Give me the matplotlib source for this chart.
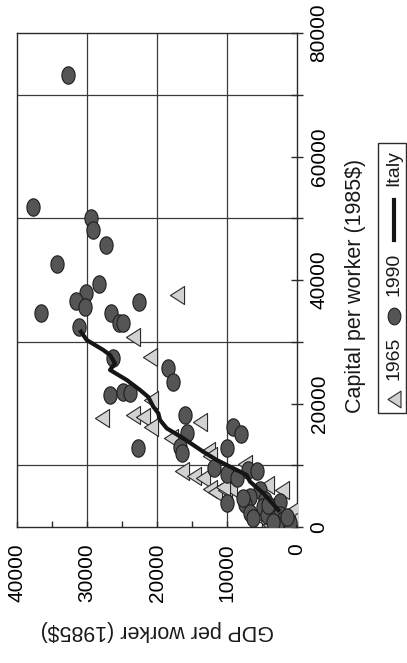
import numpy as np
import matplotlib
matplotlib.use("Agg")
import matplotlib.pyplot as plt
from matplotlib.path import Path
from matplotlib.patches import Rectangle
from matplotlib.lines import Line2D
from matplotlib.ticker import MultipleLocator

plt.rcParams['font.family'] = ['Liberation Sans', 'DejaVu Sans']

# ---- data: GDP per worker (1985$), capital per worker (1985$) ----
gdp_1965 = [17140, 23500, 21070, 20860, 27860, 23500, 21930, 20790, 13860, 18000,
            12710, 12430, 16430, 14710, 13430, 12430, 11710, 10290, 9570, 7500,
            10570, 4330, 2140, 4810, 4330, 3860, 530, 290, 1290, 2430]
cap_1965 = [37570, 30690, 27450, 20570, 17650, 18140, 17810, 16190, 17080, 14410,
            12310, 11500, 8990, 8260, 7940, 6150, 5670, 5990, 6320, 10200,
            6480, 6800, 5990, 1670, 860, 320, 2750, 1300, 320, 650]

gdp_1990 = [32710, 37760, 29430, 29140, 27290, 34240, 28330, 30190, 31610, 30290,
            36610, 26570, 22570, 25390, 24810, 31100, 26240, 18390, 17670, 26710,
            24810, 23860, 16000, 15760, 22670, 16710, 16470, 9100, 8040, 10000,
            11860, 9960, 8610, 6960, 5670, 10040, 5290, 4570, 6710, 7430,
            6710, 6240, 4810, 4330, 3140, 2430, 2430, 1960, 1000, 2900,
            7670, 4100, 1470, 3390]
cap_1990 = [73200, 51870, 50090, 48100, 45670, 42590, 39350, 37850, 36650, 35580,
            34700, 34610, 36440, 33080, 33080, 32440, 27320, 25700, 23430, 21380,
            21910, 21650, 18140, 15220, 12740, 13000, 11930, 16240, 15010, 12740,
            9510, 8580, 7890, 9230, 9120, 3940, 5990, 4370, 4910, 3720,
            2220, 1410, 3290, 1940, 3290, 4100, 1940, 1130, 600, 320,
            4650, 3560, 1670, 860]

italy_gdp = [30860, 30040, 27670, 26710, 26000, 26710, 24330, 22430, 21240, 20530,
             19810, 19570, 18610, 16240, 13390, 11470, 9100, 7190, 6710, 4810, 2670]
italy_cap = [31630, 30280, 28660, 27850, 26510, 25430, 23810, 22190, 21050, 19480,
             18410, 17330, 15980, 14360, 12190, 10850, 9510, 8420, 7340, 5460, 2750]

gdp_ticks = [0, 10000, 20000, 30000, 40000]
cap_ticks = [0, 20000, 40000, 60000, 80000]
legend_labels = ['1965', '1990', 'Italy']
xlabel = 'GDP per worker (1985$)'
ylabel = 'Capital per worker (1985$)'

W, H = 407, 663
fig = plt.figure(figsize=(W / 100, H / 100), dpi=100)


def fx(px):
    return px / W


def fy(py):
    return 1 - py / H


L, R, T, B = 17, 297, 33, 527
ax = fig.add_axes([fx(L), fy(B), (R - L) / W, (B - T) / H])

# custom markers (chart is rotated: triangles point left, circles are tall ellipses)
th = np.linspace(0, 2 * np.pi, 64)
ell = Path(np.column_stack([0.76 * np.cos(th), np.sin(th)]), closed=True)
tri = Path([(-0.78, 0), (0.78, 1), (0.78, -1), (-0.78, 0)], closed=True)

ax.set_xlim(40000, 0)
ax.set_ylim(0, 80000)

for g in [10000, 20000, 30000]:
    ax.axvline(g, color='#3a3a3a', lw=0.9, zorder=1)
for c in [10000, 30000, 50000, 70000]:
    ax.axhline(c, color='#3a3a3a', lw=0.9, zorder=1)

ax.plot(gdp_1965, cap_1965, linestyle='none', marker=tri, markersize=13,
        markerfacecolor='#d2d2d2', markeredgecolor='#2a2a2a', markeredgewidth=0.8, zorder=3)
ax.plot(gdp_1990, cap_1990, linestyle='none', marker=ell, markersize=12.5,
        markerfacecolor='#555555', markeredgecolor='#1e1e1e', markeredgewidth=0.8, zorder=4)
ax.plot(italy_gdp, italy_cap, color='#151515', lw=3.0, solid_joinstyle='round', zorder=5)

for s in ax.spines.values():
    s.set_color('#2a2a2a')
    s.set_linewidth(1.0)

ax.set_xticks(gdp_ticks)
ax.xaxis.set_minor_locator(MultipleLocator(5000))
ax.tick_params(axis='x', which='both', direction='in', length=4, width=1,
               color='#2a2a2a', pad=12, labelsize=15, labelrotation=90)
ax.yaxis.tick_right()
ax.set_yticks(cap_ticks)
ax.yaxis.set_minor_locator(MultipleLocator(10000))
ax.tick_params(axis='y', which='both', direction='inout', length=8, width=1,
               color='#2a2a2a', pad=5, labelsize=15, labelrotation=90)
ax.tick_params(left=False, top=False, which='both')
for lab in ax.get_yticklabels():
    lab.set_va('center')
for lab in ax.get_xticklabels():
    lab.set_ha('center')

fig.text(fx(157), fy(630), xlabel, rotation=180, ha='center', va='center', fontsize=15.5, color='#1a1a1a')
fig.text(fx(355), fy(286), ylabel, rotation=90, ha='center', va='center', fontsize=15.5, color='#1a1a1a')

# legend (rotated)
fig.add_artist(Rectangle((fx(378), fy(413)), (406 - 378) / W, (413 - 143) / H,
                         transform=fig.transFigure, fill=False, edgecolor='#2a2a2a', lw=1.0))
lx = 394
fig.add_artist(Line2D([fx(lx)], [fy(399)], transform=fig.transFigure, marker=tri, markersize=12,
                      markerfacecolor='#d2d2d2', markeredgecolor='#2a2a2a', markeredgewidth=0.8))
fig.text(fx(lx), fy(358), legend_labels[0], rotation=90, ha='center', va='center', fontsize=14, color='#1a1a1a')
fig.add_artist(Line2D([fx(lx)], [fy(316)], transform=fig.transFigure, marker=ell, markersize=12,
                      markerfacecolor='#555555', markeredgecolor='#1e1e1e', markeredgewidth=0.8))
fig.text(fx(lx), fy(274), legend_labels[1], rotation=90, ha='center', va='center', fontsize=14, color='#1a1a1a')
fig.add_artist(Line2D([fx(lx), fx(lx)], [fy(240), fy(200)], transform=fig.transFigure,
                      color='#151515', lw=3.0))
fig.text(fx(lx), fy(168), legend_labels[2], rotation=90, ha='center', va='center', fontsize=14, color='#1a1a1a')

fig.savefig('out.png', dpi=100)
